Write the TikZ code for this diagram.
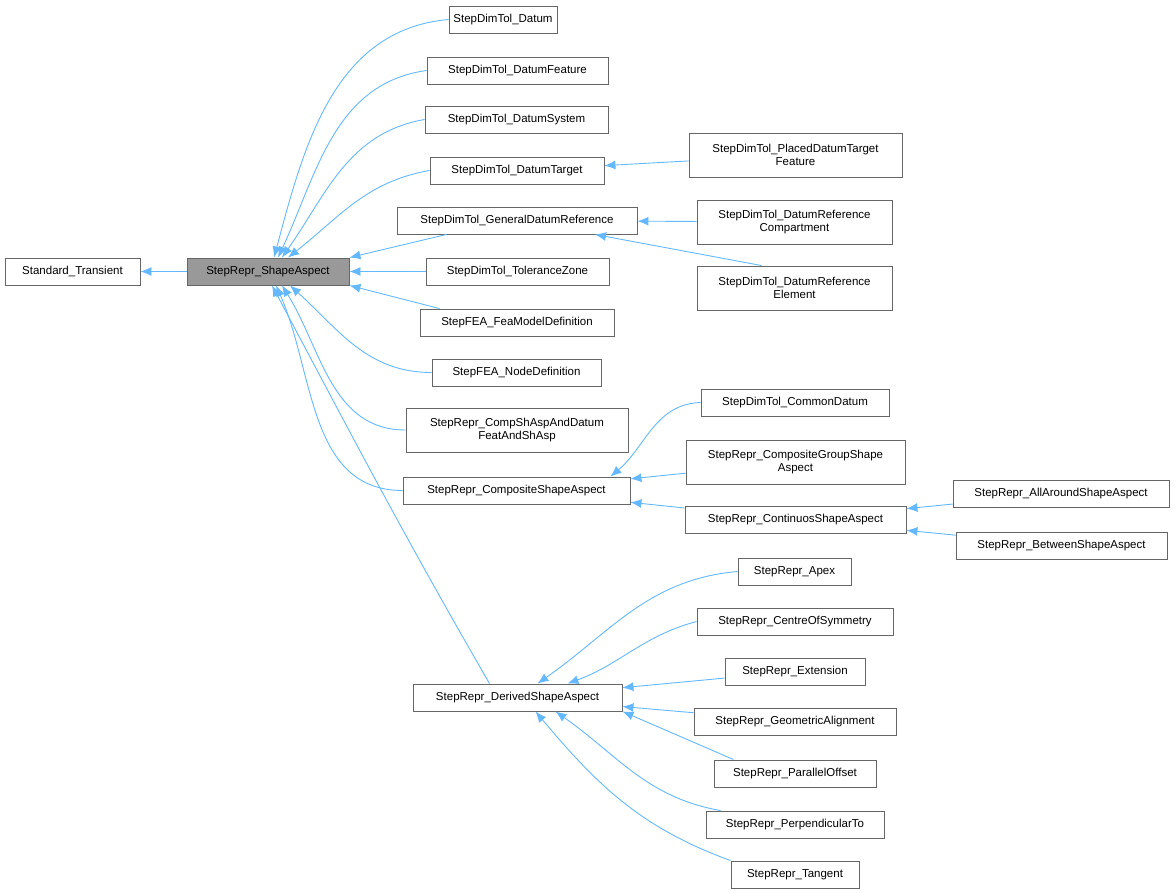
\documentclass[tikz,border=0pt]{standalone}
\usepackage{fontspec}
\setmainfont{Liberation Sans}
\usetikzlibrary{arrows.meta,calc}
\definecolor{edgec}{HTML}{63B8FF}
\definecolor{bord}{HTML}{666666}
\tikzset{
 box/.style={draw=bord, fill=white, line width=0.9pt, minimum height=27pt, inner sep=0pt, align=center, font=\fontsize{11.5}{13}\selectfont},
 box2/.style={box, minimum height=44pt},
 edge/.style={draw=edgec, line width=0.9pt, {Latex[length=11pt,width=9pt]}-}
}
\begin{document}
\begin{tikzpicture}[x=1pt,y=-1pt]
\useasboundingbox (0,0) rectangle (1176,893);
\node[box, minimum width=135] (st) at (72.5,271.5) {Standard\_Transient};
\node[box, minimum width=162, fill={rgb,255:red,153;green,153;blue,153}] (sa) at (268,271.5) {StepRepr\_ShapeAspect};
\node[box, minimum width=108] (dat) at (503,19.5) {StepDimTol\_Datum};
\node[box, minimum width=181] (df) at (517.5,70.5) {StepDimTol\_DatumFeature};
\node[box, minimum width=183] (ds) at (516.5,119.5) {StepDimTol\_DatumSystem};
\node[box, minimum width=174] (dt) at (517,170.5) {StepDimTol\_DatumTarget};
\node[box, minimum width=240] (gdr) at (517,220.5) {StepDimTol\_GeneralDatumReference};
\node[box, minimum width=183] (tz) at (517.5,271.5) {StepDimTol\_ToleranceZone};
\node[box, minimum width=194] (fea) at (517,322.5) {StepFEA\_FeaModelDefinition};
\node[box, minimum width=169] (nd) at (516.5,372.5) {StepFEA\_NodeDefinition};
\node[box2, minimum width=222] (cmp) at (517,430) {StepRepr\_CompShAspAndDatum\\FeatAndShAsp};
\node[box, minimum width=227] (csa) at (516.5,490.5) {StepRepr\_CompositeShapeAspect};
\node[box, minimum width=209] (dsa) at (517.5,697.5) {StepRepr\_DerivedShapeAspect};
\node[box2, minimum width=213] (pdt) at (795.5,155) {StepDimTol\_PlacedDatumTarget\\Feature};
\node[box2, minimum width=195] (drc) at (794.5,222) {StepDimTol\_DatumReference\\Compartment};
\node[box2, minimum width=195] (dre) at (794.5,288) {StepDimTol\_DatumReference\\Element};
\node[box, minimum width=188] (cd) at (795,402.5) {StepDimTol\_CommonDatum};
\node[box2, minimum width=219] (cgs) at (795.5,462) {StepRepr\_CompositeGroupShape\\Aspect};
\node[box, minimum width=221] (con) at (795.5,519.5) {StepRepr\_ContinuosShapeAspect};
\node[box, minimum width=216] (aa) at (1061,493.5) {StepRepr\_AllAroundShapeAspect};
\node[box, minimum width=211] (bs) at (1061.5,545.5) {StepRepr\_BetweenShapeAspect};
\node[box, minimum width=113] (apx) at (794.5,571.5) {StepRepr\_Apex};
\node[box, minimum width=196] (cos) at (795,621.5) {StepRepr\_CentreOfSymmetry};
\node[box, minimum width=140] (ext) at (795,671.5) {StepRepr\_Extension};
\node[box, minimum width=202] (ga) at (795,721.5) {StepRepr\_GeometricAlignment};
\node[box, minimum width=162] (po) at (795,773.5) {StepRepr\_ParallelOffset};
\node[box, minimum width=178] (pt) at (795,824.5) {StepRepr\_PerpendicularTo};
\node[box, minimum width=128] (tg) at (795,874.5) {StepRepr\_Tangent};

\draw[edge] (st) -- (sa);
\draw[edge] ($(sa.north)+(6,0)$) to[out=75,in=185] (dat.west);
\draw[edge] ($(sa.north)+(10,0)$) to[out=65,in=188] (df.west);
\draw[edge] ($(sa.north)+(14,0)$) to[out=55,in=190] (ds.west);
\draw[edge] ($(sa.north)+(20,0)$) to[out=38,in=190] (dt.west);
\draw[edge] (sa.north east) -- ($(gdr.south west)+(50,0)$);
\draw[edge] (sa) -- (tz);
\draw[edge] (sa.south east) -- ($(fea.north west)+(20,0)$);
\draw[edge] ($(sa.south)+(22,0)$) to[out=-42,in=180] (nd.west);
\draw[edge] ($(sa.south)+(14,0)$) to[out=-58,in=180] (cmp.west);
\draw[edge] ($(sa.south)+(8,0)$) to[out=-66,in=180] (csa.west);
\draw[edge] ($(sa.south)+(4,0)$) to[out=-62,in=120] ($(dsa.north)+(-28,0)$);
\draw[edge] (dt) -- (pdt);
\draw[edge] (gdr) -- (drc);
\draw[edge] ($(gdr.south)+(78,0)$) -- ($(dre.north west)+(65,0)$);
\draw[edge] ($(csa.north east)+(-20,0)$) to[out=40,in=182] (cd.west);
\draw[edge] (csa) -- (cgs);
\draw[edge] (csa) -- (con);
\draw[edge] (con) -- (aa);
\draw[edge] (con) -- (bs);
\draw[edge] ($(dsa.north)+(20,0)$) to[out=35,in=185] (apx.west);
\draw[edge] ($(dsa.north)+(50,0)$) to[out=20,in=195] (cos.west);
\draw[edge] (dsa) -- (ext);
\draw[edge] (dsa) -- (ga);
\draw[edge] (dsa.south east) -- ($(po.north west)+(20,0)$);
\draw[edge] ($(dsa.south)+(38,0)$) to[out=-35,in=170] ($(pt.north west)+(15,0)$);
\draw[edge] ($(dsa.south)+(18,0)$) to[out=-50,in=160] ($(tg.north west)+(0,0)$);
\end{tikzpicture}
\end{document}
